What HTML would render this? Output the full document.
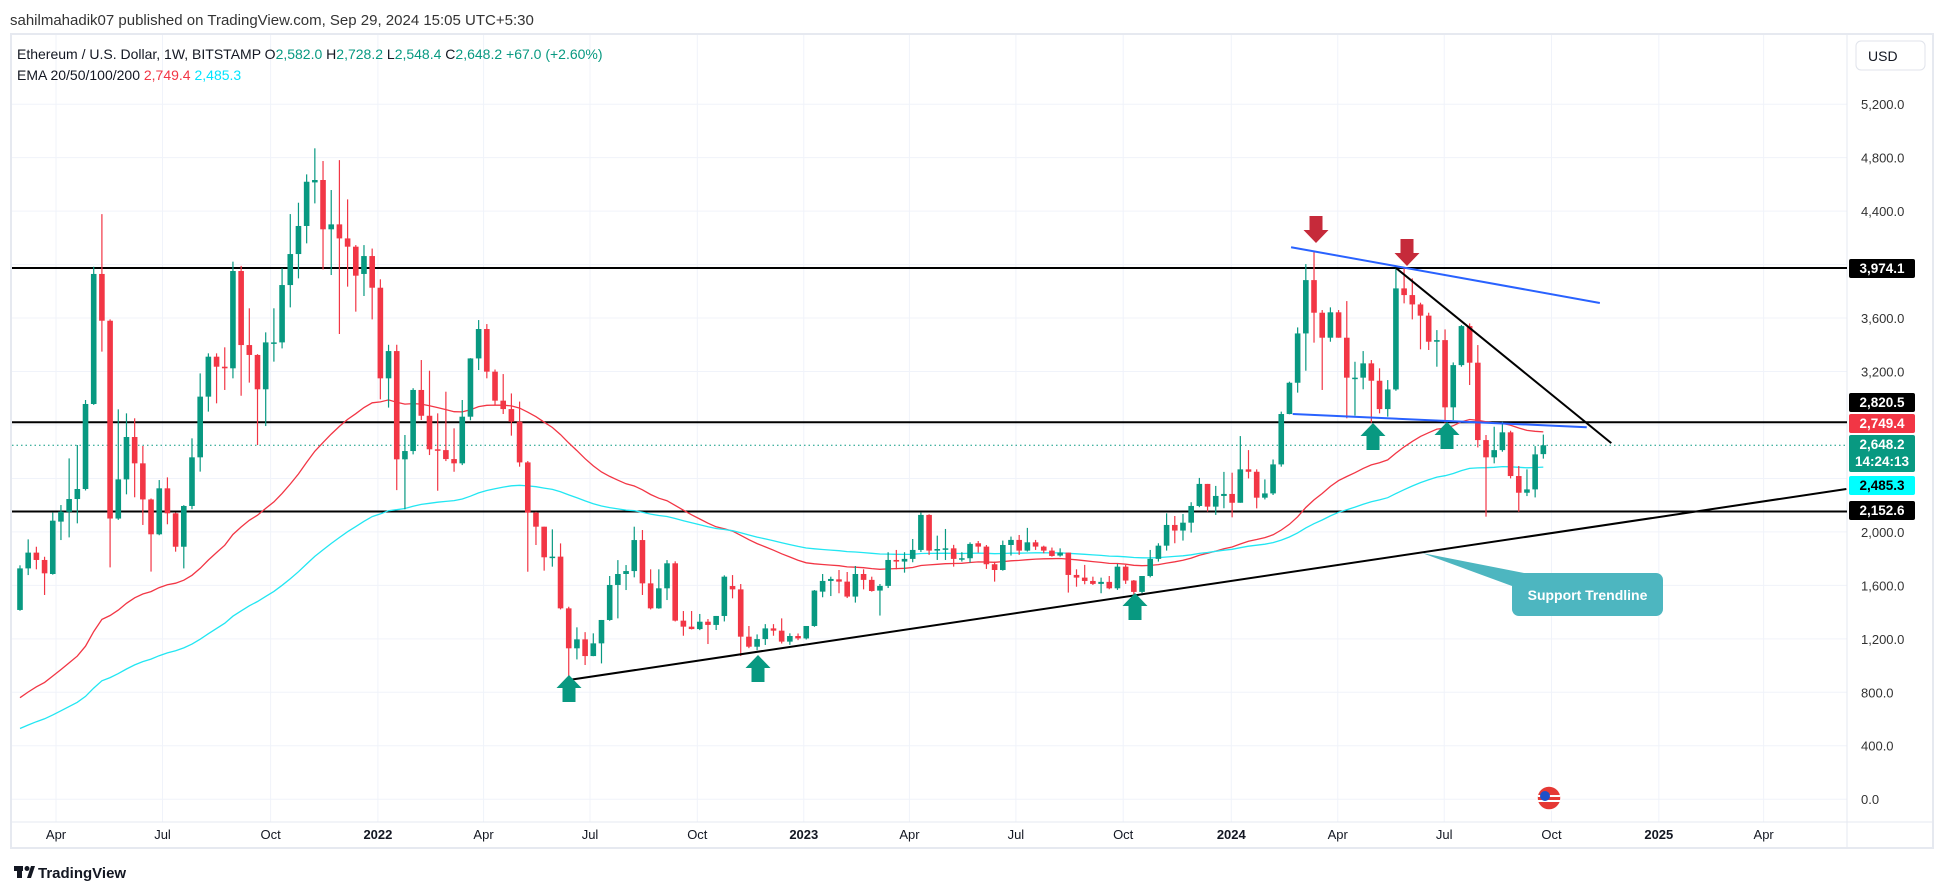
<!DOCTYPE html>
<html><head><meta charset="utf-8"><style>
html,body{margin:0;padding:0;background:#fff;}
svg{display:block;font-family:"Liberation Sans",sans-serif;}
</style></head><body>
<svg id="chart" width="1946" height="893" viewBox="0 0 1946 893" xmlns="http://www.w3.org/2000/svg">
<rect x="0" y="0" width="1946" height="893" fill="#fff"/>
<text x="10" y="25" font-size="15" fill="#333">sahilmahadik07 published on TradingView.com, Sep 29, 2024 15:05 UTC+5:30</text>
<rect x="11" y="34" width="1922" height="814" fill="none" stroke="#e6e9f0" stroke-width="2"/>
<g id="grid"></g>
<g id="hlines"></g>
<g id="ema"></g>
<g id="candles"></g>
<g id="draw"></g>
<g id="legend">
<text x="17" y="59" font-size="14" fill="#131722">Ethereum / U.S. Dollar, 1W, BITSTAMP  O<tspan fill="#089981">2,582.0</tspan>  H<tspan fill="#089981">2,728.2</tspan>  L<tspan fill="#089981">2,548.4</tspan>  C<tspan fill="#089981">2,648.2</tspan>  <tspan fill="#089981">+67.0 (+2.60%)</tspan></text>
<text x="17" y="80" font-size="14" fill="#131722">EMA 20/50/100/200  <tspan fill="#f23645">2,749.4</tspan>  <tspan fill="#00e5ff">2,485.3</tspan></text>
</g>
<g id="axis"></g>
<g>
<rect x="1856" y="41" width="69" height="29" rx="5" fill="#fff" stroke="#e0e3eb"/>
<text x="1868" y="61" font-size="14" fill="#131722">USD</text>
</g>
<g>
<rect x="14" y="866" width="9" height="5" fill="#131722"/>
<rect x="17" y="866" width="5" height="12" fill="#131722"/>
<circle cx="27" cy="868.5" r="2.5" fill="#131722"/>
<polygon points="27,878 31,866 35,866 31,878" fill="#131722"/>
<text x="38" y="878" font-size="15" font-weight="bold" fill="#131722">TradingView</text>
</g>
<g>
<circle cx="1549" cy="798" r="12" fill="#e53935"/>
<rect x="1538" y="795" width="22" height="2" fill="#fff"/>
<rect x="1538" y="800" width="22" height="2" fill="#fff"/>
<circle cx="1545" cy="796" r="5" fill="#1e50c8"/>
<circle cx="1549" cy="798" r="12" fill="none" stroke="#fff" stroke-width="1.5"/>
</g>
</svg>
<script>
const O=[1416,1727,1845,1790,1685,2077,2151,2246,2321,2957,3930,3580,2100,2393,2710,2513,2243,1982,2326,2139,1889,2194,2558,3012,3311,3236,3224,3952,3398,3324,3067,3413,3418,3847,4079,4289,4615,4633,4264,4301,4196,4134,3930,4064,3827,3149,3353,2543,2605,3062,2869,2618,2612,2545,2513,2862,3298,3518,3199,2982,2919,2825,2520,2144,2039,1812,1815,1428,1129,1196,1071,1166,1341,1603,1685,1707,1939,1615,1428,1578,1765,1336,1291,1273,1328,1304,1371,1595,1570,1216,1141,1198,1278,1261,1179,1221,1203,1296,1553,1633,1645,1628,1516,1685,1641,1561,1596,1790,1778,1798,1865,2127,1860,1872,1877,1798,1803,1915,1890,1758,1715,1902,1940,1860,1922,1890,1860,1823,1845,1678,1658,1633,1611,1626,1578,1740,1636,1551,1670,1798,1897,2052,2010,2069,2194,2359,2189,2269,2284,2218,2468,2450,2256,2288,2505,2882,3116,3485,3884,3640,3453,3643,3453,3154,3154,3261,3131,2919,3066,3822,3772,3702,3618,3423,3435,2932,3248,3540,3266,2687,2558,2612,2745,2418,2293,2318,2582];
const H=[1750,1944,1889,1814,2144,2201,2550,2650,2987,3984,4378,3590,2917,2887,2850,2643,2250,2388,2408,2145,2200,2700,3186,3336,3336,3381,4022,3990,3673,3330,3493,3673,3972,4378,4463,4675,4870,4775,4558,4782,4488,4146,4146,4120,3890,3400,3400,2725,3075,3286,3206,2887,3049,2775,2987,3300,3585,3555,3215,3181,3036,2975,2530,2150,2039,2019,1914,1440,1286,1250,1241,1341,1670,1789,1752,2039,2014,1720,1720,1789,1780,1408,1408,1386,1348,1371,1675,1677,1610,1296,1233,1310,1310,1353,1241,1240,1296,1565,1685,1665,1715,1700,1745,1720,1665,1610,1848,1865,1848,1947,2144,2132,1972,2022,1903,1848,1922,1932,1902,1778,1935,1965,1977,2030,1940,1897,1883,1877,1845,1720,1753,1665,1658,1670,1760,1753,1640,1670,1865,1915,2139,2119,2134,2222,2404,2359,2344,2449,2443,2717,2612,2468,2393,2542,2900,3124,3530,4004,4096,3660,3680,3660,3727,3273,3353,3286,3224,3136,3975,3975,3897,3715,3640,3510,3515,3268,3548,3560,3398,2725,2787,2824,2757,2493,2468,2642,2728];
const L=[1410,1677,1720,1528,1680,1939,1959,2064,2310,2950,3349,1735,2090,2281,2259,2052,1703,1975,2057,1852,1727,2170,2451,2900,2962,3062,3149,3019,3117,2650,2792,3274,3373,3680,3897,4159,4458,3964,3922,3481,3835,3648,3765,3590,2992,2930,2313,2169,2580,2837,2575,2308,2530,2450,2500,2835,3211,3149,2949,2882,2720,2488,1702,1902,1710,1740,1420,892,1046,1004,1070,1016,1335,1353,1565,1660,1528,1420,1425,1490,1330,1223,1270,1265,1161,1266,1330,1503,1071,1130,1115,1154,1223,1165,1155,1190,1195,1290,1511,1520,1541,1505,1471,1570,1553,1374,1580,1720,1695,1773,1850,1828,1790,1790,1740,1778,1770,1845,1723,1628,1710,1823,1828,1853,1865,1840,1815,1815,1546,1590,1608,1603,1541,1571,1566,1611,1528,1541,1660,1778,1860,1915,1935,1995,2185,2152,2127,2177,2109,2218,2400,2176,2243,2276,2488,2880,3042,3206,3416,3062,3423,3453,2850,2870,3067,2817,2887,2862,3056,3710,3590,3366,3361,3236,2817,2837,3236,3099,2632,2114,2513,2600,2400,2151,2268,2258,2548];
const C=[1727,1845,1790,1690,2084,2151,2246,2321,2957,3930,3580,2100,2393,2710,2513,2243,1982,2326,2139,1889,2194,2558,3012,3311,3236,3224,3952,3398,3324,3067,3418,3418,3847,4079,4289,4620,4633,4264,4301,4196,4134,3917,4064,3827,3149,3353,2543,2605,3062,2869,2618,2612,2545,2513,2862,3298,3518,3199,2982,2919,2825,2520,2144,2039,1810,1815,1428,1129,1196,1071,1166,1341,1603,1685,1707,1939,1615,1428,1578,1765,1336,1291,1273,1328,1304,1371,1665,1570,1216,1141,1198,1278,1261,1179,1221,1203,1296,1561,1633,1648,1628,1516,1685,1641,1558,1596,1790,1778,1798,1865,2127,1860,1872,1877,1798,1803,1910,1890,1758,1715,1902,1940,1860,1922,1890,1860,1820,1845,1678,1658,1633,1611,1626,1578,1740,1636,1551,1670,1798,1897,2052,2010,2069,2194,2359,2189,2269,2284,2218,2468,2450,2256,2288,2505,2882,3116,3485,3884,3640,3453,3643,3453,3154,3154,3261,3131,2919,3066,3822,3772,3702,3618,3423,3435,2932,3248,3540,3266,2687,2558,2612,2745,2418,2293,2318,2580,2648];
const emaSeeds=[720,505];
const emaPeriods=[50,100];
const priceTicks=[0,400,800,1200,1600,2000,2400,2800,3200,3600,4000,4400,4800,5200];
const hiddenTickLabels=[2400,2800,4000];
const timeLabels=["Apr","Jul","Oct","2022","Apr","Jul","Oct","2023","Apr","Jul","Oct","2024","Apr","Jul","Oct","2025","Apr"];
const timeWeeks=[4.4,17.4,30.6,43.7,56.6,69.6,82.7,95.7,108.6,121.6,134.7,147.9,160.9,173.9,187.0,200.1,212.9];
const levelPrices=[3974.1,2820.5,2152.6];
const levelLabels=["3,974.1","2,820.5","2,152.6"];

const NS="http://www.w3.org/2000/svg";
const X0=20,DX=8.19,PL=12,PR=1847;
function xs(i){return X0+i*DX;}
function ys(p){return 799.2-p*0.13365;}
function mk(tag,attrs,parent){const e=document.createElementNS(NS,tag);for(const k in attrs)e.setAttribute(k,attrs[k]);parent.appendChild(e);return e;}
const G=id=>document.getElementById(id);

const grid=G('grid');
priceTicks.forEach(p=>{const l=mk('line',{x1:PL,x2:PR,y1:ys(p),y2:ys(p),stroke:'#f0f3fa','stroke-width':1},grid);

});
timeWeeks.forEach(w=>{const l=mk('line',{x1:xs(w),x2:xs(w),y1:35,y2:822,stroke:'#f0f3fa','stroke-width':1},grid);

});
mk('line',{x1:PR,x2:PR,y1:35,y2:848,stroke:'#e6e9f0'},grid);
mk('line',{x1:PL,x2:1933,y1:822,y2:822,stroke:'#e6e9f0'},grid);

const hl=G('hlines');
levelPrices.forEach(p=>{const l=mk('line',{x1:PL,x2:PR,y1:ys(p),y2:ys(p),stroke:'#000','stroke-width':2},hl);

});
const cp=mk('line',{x1:PL,x2:PR,y1:ys(C[C.length-1]),y2:ys(C[C.length-1]),stroke:'#089981','stroke-width':1,'stroke-dasharray':'1.5 3'},hl);



const emaColors=['#f23645','#22e6f2'];
const emaNames=['ema-50-line','ema-100-line'];
emaPeriods.forEach((n,k)=>{const a=2/(n+1);let e=emaSeeds[k];let pts=[];
for(let i=0;i<C.length;i++){e=e+a*(C[i]-e);pts.push(xs(i).toFixed(1)+','+ys(e).toFixed(1));}
const pl=mk('polyline',{points:pts.join(' '),fill:'none',stroke:emaColors[k],'stroke-width':1.3},G('ema'));

});

const cg=G('candles');
for(let i=0;i<C.length;i++){const up=C[i]>=O[i];const col=up?'#089981':'#f23645';const x=xs(i);
const g=mk('g',{},cg);


mk('line',{x1:x,x2:x,y1:ys(H[i]),y2:ys(L[i]),stroke:col,'stroke-width':1.2},g);
const t=ys(Math.max(O[i],C[i])),b=ys(Math.min(O[i],C[i]));
mk('rect',{x:x-2.8,y:t,width:5.6,height:Math.max(1.5,b-t),fill:col},g);}

const dg=G('draw');
function dl(name,i1,p1,i2,p2,col,w){const l=mk('line',{x1:xs(i1),y1:ys(p1),x2:xs(i2),y2:ys(p2),stroke:col,'stroke-width':w},dg);

}
dl('support-trendline',67,892,223,2321,'#000',2);
dl('descending-resistance',168,3975,194.3,2664,'#000',2);
dl('upper-blue-trendline',155.2,4130,192.9,3713,'#2962ff',2);
dl('lower-blue-trendline',155.4,2882,191.3,2783,'#2962ff',2);
function upArrow(name,cx,tip){const g=mk('g',{},dg);


mk('polygon',{points:`${cx},${tip} ${cx+12.5},${tip+13} ${cx+6.5},${tip+13} ${cx+6.5},${tip+27} ${cx-6.5},${tip+27} ${cx-6.5},${tip+13} ${cx-12.5},${tip+13}`,fill:'#089981'},g);}
function downArrow(name,cx,tip){const g=mk('g',{},dg);


mk('polygon',{points:`${cx},${tip} ${cx+12.5},${tip-13} ${cx+6.5},${tip-13} ${cx+6.5},${tip-27} ${cx-6.5},${tip-27} ${cx-6.5},${tip-13} ${cx-12.5},${tip-13}`,fill:'#c62a3a'},g);}
upArrow('support-arrow',569,675);upArrow('support-arrow',758,655);upArrow('support-arrow',1135,593);
upArrow('support-arrow',1373,423);upArrow('support-arrow',1447,422);
downArrow('resistance-arrow',1316,243);downArrow('resistance-arrow',1407,266);
const cb=mk('g',{},dg);


mk('polygon',{points:'1422,553 1512,586 1524,573',fill:'#4db6c0'},cb);
mk('rect',{x:1512,y:573,width:151,height:43,rx:7,fill:'#4db6c0'},cb);
const ct=mk('text',{x:1587.5,y:600,'font-size':14,'font-weight':'bold',fill:'#fff','text-anchor':'middle'},cb);ct.textContent='Support Trendline';

const ax=G('axis');
priceTicks.forEach(p=>{if(hiddenTickLabels.includes(p))return;const t=mk('text',{x:1861,y:ys(p)+5,'font-size':13,fill:'#333'},ax);t.textContent=p.toLocaleString('en-US',{minimumFractionDigits:1});

});
timeLabels.forEach((s,k)=>{const yr=/^\d+$/.test(s);const t=mk('text',{x:xs(timeWeeks[k]),y:839,'font-size':13,fill:'#131722','text-anchor':'middle','font-weight':yr?'bold':'normal'},ax);t.textContent=s;

});
function tag(name,y,h,bg,fg,lines){const g=mk('g',{},ax);


mk('rect',{x:1849,y:y,width:66,height:h,rx:2,fill:bg},g);
lines.forEach((s,k)=>{const t=mk('text',{x:1882,y:y+14+k*17,'font-size':13.5,'font-weight':'bold',fill:fg,'text-anchor':'middle'},g);t.textContent=s;});}
tag('level-tag-3974',259,19,'#000','#fff',[levelLabels[0]]);
tag('level-tag-2820',393,19,'#000','#fff',[levelLabels[1]]);
tag('ema50-tag',414,19,'#f23645','#fff',['2,749.4']);
tag('price-tag',435,37,'#089981','#fff',['2,648.2','14:24:13']);
tag('ema100-tag',476,19,'#00ffff','#000',['2,485.3']);
tag('level-tag-2152',501,19,'#000','#fff',[levelLabels[2]]);
</script>
</body></html>
